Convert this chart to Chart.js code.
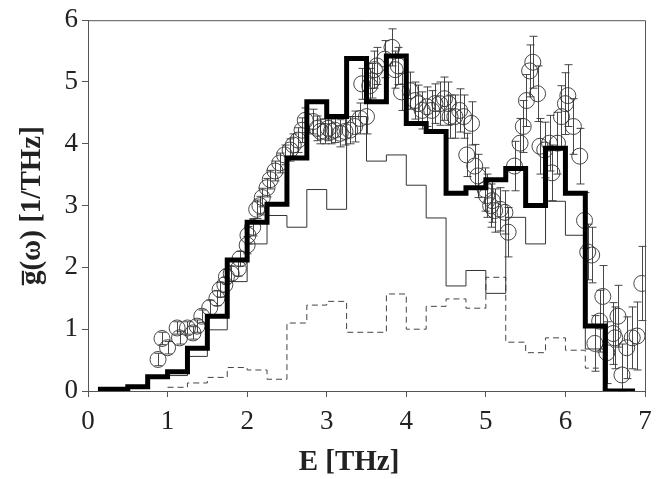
<!DOCTYPE html>
<html>
<head>
<meta charset="utf-8">
<script src="https://cdn.jsdelivr.net/npm/chart.js@4.4.1/dist/chart.umd.min.js"></script>
<style>
  html, body { margin: 0; padding: 0; background: #fff; }
  #wrap { width: 662px; height: 479px; }
</style>
</head>
<body>
<div id="wrap"><canvas id="dos"></canvas></div>
<script>
// ---------------------------------------------------------------------------
// Data
// ---------------------------------------------------------------------------

// Histogram bin starts [THz]; the last entry closes the final bin
const totalEdges = [0.125, 0.5, 0.75, 1.0, 1.25, 1.5, 1.75, 2.0, 2.25, 2.5, 2.75, 3.0, 3.25,
    3.5, 3.75, 4.0, 4.25, 4.5, 4.75, 5.0, 5.25, 5.5, 5.75, 6.0, 6.25, 6.5, 6.875];
const totalVals = [0.03, 0.07, 0.23, 0.31, 0.69, 1.21, 2.12, 2.73, 3.02, 3.77, 4.68, 4.44, 5.38,
    4.68, 5.42, 4.33, 4.2, 3.2, 3.29, 3.42, 3.6, 3.0, 3.93, 3.2, 1.05, 0.0, 0.0];

const partAEdges = [0.125, 0.5, 0.75, 1.0, 1.25, 1.5, 1.75, 2.0, 2.25, 2.5, 2.75, 3.0, 3.25,
    3.5, 3.75, 4.0, 4.25, 4.5, 4.75, 5.0, 5.25, 5.5, 5.75, 6.0, 6.25, 6.5];
const partAVals = [0.03, 0.07, 0.23, 0.25, 0.56, 0.99, 1.77, 2.38, 2.84, 2.65, 3.26, 2.94, 4.44,
    3.72, 3.82, 3.33, 2.8, 1.7, 1.95, 1.58, 2.81, 2.38, 3.07, 2.52, 0.68, 0.0];

const partBEdges = [1.0, 1.25, 1.5, 1.75, 2.0, 2.25, 2.5, 2.75, 3.0, 3.25, 3.5, 3.75, 4.0,
    4.25, 4.5, 4.75, 5.0, 5.25, 5.5, 5.75, 6.0, 6.25, 6.5];
const partBVals = [0.06, 0.13, 0.22, 0.38, 0.34, 0.19, 1.1, 1.39, 1.45, 0.95, 0.95, 1.57, 1.0,
    1.37, 1.49, 1.34, 1.84, 0.79, 0.62, 0.86, 0.66, 0.37, 0.0];

// Measured points with error bars
const measE = [0.88, 0.93, 1.0, 1.12, 1.15, 1.25, 1.32, 1.37, 1.43, 1.53, 1.62, 1.66, 1.72, 1.74,
    1.8, 1.89, 1.91, 2.0, 2.01, 2.07, 2.12, 2.16, 2.19, 2.25, 2.29, 2.35, 2.41, 2.47, 2.54, 2.58,
    2.64, 2.69, 2.73, 2.83, 2.88, 2.92, 2.98, 3.02, 3.06, 3.1, 3.17, 3.23, 3.29, 3.35, 3.42, 3.44,
    3.5, 3.54, 3.57, 3.6, 3.63, 3.73, 3.82, 3.86, 3.9, 3.94, 4.05, 4.11, 4.15, 4.2, 4.26, 4.32,
    4.36, 4.42, 4.48, 4.53, 4.55, 4.61, 4.67, 4.72, 4.76, 4.82, 4.86, 4.9, 4.99, 5.01, 5.06, 5.08,
    5.11, 5.18, 5.24, 5.28, 5.36, 5.43, 5.47, 5.51, 5.55, 5.59, 5.65, 5.68, 5.74, 5.8, 5.83, 5.9,
    5.95, 6.0, 6.03, 6.1, 6.18, 6.24, 6.28, 6.33, 6.37, 6.43, 6.47, 6.52, 6.6, 6.62, 6.66, 6.71,
    6.77, 6.84, 6.9, 6.96];
const measG = [0.51, 0.85, 0.7, 1.02, 0.86, 1.02, 0.94, 1.05, 1.21, 1.35, 1.5, 1.64, 1.72, 1.85,
    1.9, 1.98, 2.14, 2.36, 2.52, 2.65, 2.94, 3.0, 3.13, 3.29, 3.42, 3.56, 3.69, 3.82, 3.9, 3.98,
    4.06, 4.22, 4.38, 4.36, 4.25, 4.2, 4.2, 4.25, 4.2, 4.22, 4.17, 4.2, 4.22, 4.28, 4.41, 4.97,
    4.44, 4.94, 5.02, 5.2, 5.26, 5.37, 5.56, 5.2, 5.26, 4.84, 4.86, 4.7, 4.65, 4.54, 4.6, 4.54,
    4.65, 4.65, 4.73, 4.65, 4.44, 4.44, 4.54, 4.44, 3.82, 4.33, 3.64, 3.48, 3.26, 3.16, 3.0, 3.08,
    2.92, 2.94, 2.89, 2.57, 3.64, 4.01, 4.28, 4.7, 5.18, 5.32, 4.81, 3.96, 3.9, 4.01, 3.53, 4.01,
    4.44, 4.65, 4.78, 4.28, 3.8, 2.76, 2.25, 2.2, 0.77, 1.13, 1.53, 0.62, 0.93, 0.86, 1.21, 0.26,
    0.7, 0.86, 0.89, 1.74];
const measErr = [0.1, 0.1, 0.1, 0.1, 0.1, 0.1, 0.1, 0.1, 0.1, 0.12, 0.12, 0.12, 0.12, 0.12,
    0.12, 0.12, 0.12, 0.14, 0.14, 0.14, 0.15, 0.15, 0.15, 0.15, 0.15, 0.16, 0.16, 0.16, 0.18, 0.18,
    0.2, 0.2, 0.2, 0.2, 0.2, 0.2, 0.2, 0.2, 0.2, 0.2, 0.22, 0.22, 0.22, 0.25, 0.25, 0.25,
    0.28, 0.28, 0.28, 0.3, 0.3, 0.3, 0.3, 0.3, 0.3, 0.3, 0.3, 0.3, 0.3, 0.3, 0.32, 0.32,
    0.32, 0.35, 0.35, 0.35, 0.35, 0.35, 0.35, 0.35, 0.35, 0.35, 0.35, 0.35, 0.35, 0.35, 0.35, 0.35,
    0.35, 0.35, 0.35, 0.4, 0.4, 0.4, 0.42, 0.42, 0.42, 0.42, 0.45, 0.45, 0.45, 0.45, 0.45, 0.5,
    0.5, 0.5, 0.5, 0.45, 0.45, 0.45, 0.45, 0.45, 0.45, 0.5, 0.5, 0.5, 0.5, 0.5, 0.5, 0.5,
    0.5, 0.5, 0.55, 0.6];

const xTicks = [0, 1, 2, 3, 4, 5, 6, 7];
const yTicks = [0, 1, 2, 3, 4, 5, 6];
const xTitle = "E [THz]";
const yTitle = "g\u0305(\u03c9) [1/THz]";

// ---------------------------------------------------------------------------
// Helpers
// ---------------------------------------------------------------------------

function toSteps(edges, vals) {
    return edges.map((x, i) => ({ x: x, y: vals[i] }));
}

const SERIF = "'Liberation Serif', 'Times New Roman', serif";

// Box frame (top + right edges) and the x-axis title, which sits left of centre
const frameBox = {
    id: "frameBox",
    afterDraw(chart) {
        const { ctx, chartArea: a } = chart;
        ctx.save();
        ctx.strokeStyle = "#555";
        ctx.lineWidth = 1;
        ctx.beginPath();
        ctx.moveTo(a.left, a.top + 0.5);
        ctx.lineTo(a.right + 0.5, a.top + 0.5);
        ctx.lineTo(a.right + 0.5, a.bottom);
        ctx.stroke();

        ctx.fillStyle = "#222";
        ctx.font = "bold 29px " + SERIF;
        ctx.textAlign = "center";
        ctx.textBaseline = "middle";
        ctx.fillText(xTitle, 349, 463);
        ctx.restore();
    },
};

// Vertical error bars with caps for the measured dataset
const errorBars = {
    id: "errorBars",
    beforeDatasetsDraw(chart) {
        const { ctx } = chart;
        const xs = chart.scales.x;
        const ys = chart.scales.y;
        ctx.save();
        ctx.strokeStyle = "#333";
        ctx.lineWidth = 0.9;
        measE.forEach((e, i) => {
            const px = Math.round(xs.getPixelForValue(e)) + 0.5;
            const lo = ys.getPixelForValue(Math.max(0, measG[i] - measErr[i]));
            const hi = ys.getPixelForValue(measG[i] + measErr[i]);
            ctx.beginPath();
            ctx.moveTo(px, lo);
            ctx.lineTo(px, hi);
            ctx.moveTo(px - 4, hi);
            ctx.lineTo(px + 4, hi);
            ctx.moveTo(px - 4, lo);
            ctx.lineTo(px + 4, lo);
            ctx.stroke();
        });
        ctx.restore();
    },
};

// ---------------------------------------------------------------------------
// Chart
// ---------------------------------------------------------------------------

new Chart(document.getElementById("dos"), {
    type: "scatter",
    data: {
        datasets: [
            {
                label: "measured",
                data: measE.map((e, i) => ({ x: e, y: measG[i] })),
                pointStyle: "circle",
                pointRadius: 8,
                pointBackgroundColor: "rgba(0,0,0,0)",
                pointBorderColor: "#333",
                pointBorderWidth: 0.9,
                showLine: false,
                order: 3,
            },
            {
                label: "partial B",
                data: toSteps(partBEdges, partBVals),
                type: "line",
                stepped: "before",
                borderColor: "#444",
                borderWidth: 1,
                borderDash: [6, 4],
                pointRadius: 0,
                fill: false,
                order: 2,
            },
            {
                label: "partial A",
                data: toSteps(partAEdges, partAVals),
                type: "line",
                stepped: "before",
                borderColor: "#333",
                borderWidth: 1,
                pointRadius: 0,
                fill: false,
                order: 1,
            },
            {
                label: "total",
                data: toSteps(totalEdges, totalVals),
                type: "line",
                stepped: "before",
                borderColor: "#000",
                borderWidth: 5,
                pointRadius: 0,
                fill: false,
                order: 0,
            },
        ],
    },
    options: {
        responsive: true,
        maintainAspectRatio: false,
        animation: false,
        layout: { padding: { top: 16, right: 17, left: 0, bottom: 0 } },
        plugins: {
            legend: { display: false },
            tooltip: { enabled: false },
        },
        scales: {
            x: {
                type: "linear",
                min: 0,
                max: 7,
                afterFit: (s) => { s.height = 88; },
                afterBuildTicks: (s) => { s.ticks = xTicks.map((v) => ({ value: v })); },
                ticks: {
                    color: "#222",
                    padding: 9,
                    font: { family: SERIF, size: 27 },
                },
                grid: { drawOnChartArea: false, drawTicks: true, tickLength: 6, color: "#555" },
                border: { display: true, color: "#555", width: 1 },
            },
            y: {
                type: "linear",
                min: 0,
                max: 6,
                afterFit: (s) => { s.width = 88; },
                afterBuildTicks: (s) => { s.ticks = yTicks.map((v) => ({ value: v })); },
                ticks: {
                    color: "#222",
                    padding: 4,
                    font: { family: SERIF, size: 27 },
                },
                grid: { drawOnChartArea: false, drawTicks: true, tickLength: 6, color: "#555" },
                border: { display: true, color: "#555", width: 1 },
                title: {
                    display: true,
                    text: yTitle,
                    color: "#222",
                    padding: { top: 18, bottom: 0 },
                    font: { family: SERIF, size: 29, weight: "bold", lineHeight: 1 },
                },
            },
        },
    },
    plugins: [frameBox, errorBars],
});
</script>
</body>
</html>
